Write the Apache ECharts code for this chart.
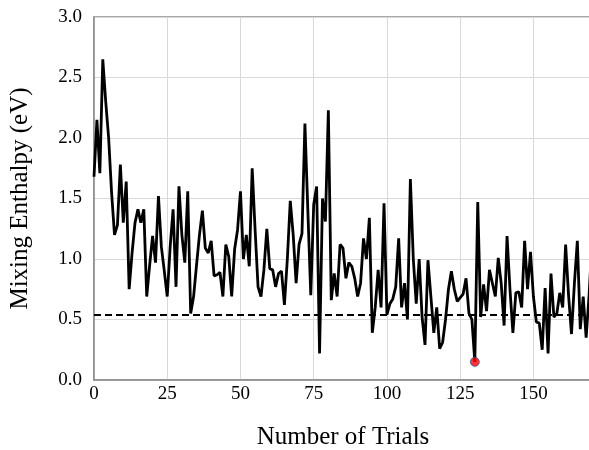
<!DOCTYPE html>
<html>
<head>
<meta charset="utf-8">
<script src="https://cdn.jsdelivr.net/npm/echarts@6/dist/echarts.min.js"></script>
<style>
  html, body { margin: 0; padding: 0; background: #fff; }
  #main { width: 589px; height: 450px; }
</style>
</head>
<body>
<div id="main"></div>
<script>
var enthalpy = [
    1.68, 2.15, 1.71, 2.65, 2.3, 2.0, 1.55, 1.2, 1.28, 1.78,
    1.30, 1.64, 0.75, 1.05, 1.30, 1.41, 1.30, 1.41, 0.69, 0.95,
    1.19, 0.97, 1.52, 1.1, 0.9, 0.69, 1.1, 1.41, 0.77, 1.60,
    1.2, 0.97, 1.56, 0.55, 0.69, 0.95, 1.2, 1.40, 1.09, 1.05,
    1.15, 0.86, 0.87, 0.89, 0.69, 1.12, 1.02, 0.69, 1.08, 1.24,
    1.56, 1.0, 1.2, 0.94, 1.75, 1.24, 0.77, 0.69, 0.91, 1.25,
    0.92, 0.91, 0.77, 0.88, 0.9, 0.62, 1.0, 1.48, 1.2, 0.80,
    1.12, 1.21, 2.12, 1.4, 0.70, 1.45, 1.6, 0.22, 1.50, 1.31,
    2.23, 0.66, 0.88, 0.69, 1.12, 1.09, 0.84, 0.97, 0.94, 0.84,
    0.69, 0.80, 1.17, 1.0, 1.34, 0.39, 0.6, 0.91, 0.6, 1.46,
    0.54, 0.63, 0.67, 0.77, 1.17, 0.6, 0.8, 0.5, 1.66, 1.0,
    0.63, 1.0, 0.52, 0.29, 0.99, 0.69, 0.39, 0.6, 0.26, 0.31,
    0.5, 0.75, 0.90, 0.75, 0.65, 0.68, 0.71, 0.84, 0.55, 0.50,
    0.15, 1.47, 0.52, 0.79, 0.57, 0.91, 0.8, 0.69, 1.01, 0.80,
    0.45, 1.19, 0.75, 0.39, 0.72, 0.73, 0.6, 1.15, 0.75, 1.06,
    0.69, 0.48, 0.47, 0.25, 0.76, 0.22, 0.88, 0.52, 0.55, 0.72,
    0.60, 1.12, 0.7, 0.38, 0.8, 1.15, 0.42, 0.69, 0.35, 0.7,
    1.15
];
var reference = 0.54;
var xTicks = [0, 25, 50, 75, 100, 125, 150];
var yTicks = [0.0, 0.5, 1.0, 1.5, 2.0, 2.5, 3.0];

var points = enthalpy.map(function (v, i) { return [i, v]; });
var best = 0;
enthalpy.forEach(function (v, i) { if (v < enthalpy[best]) best = i; });

var font = '"Liberation Serif", "Times New Roman", serif';
var myChart = echarts.init(document.getElementById('main'));

option = {
    animation: false,
    grid: {
        left: 94,
        right: -3,
        top: 17,
        bottom: 70,
        outerBoundsMode: 'none',
        containLabel: false,
        show: true,
        borderColor: '#8c8c8c',
        borderWidth: 1.5
    },
    xAxis: {
        type: 'value',
        min: 0,
        max: 170,
        interval: 25,
        name: 'Number of Trials',
        nameLocation: 'middle',
        nameGap: 45,
        nameTextStyle: { fontFamily: font, fontSize: 25, color: '#000' },
        axisLine: { show: true, lineStyle: { color: '#8c8c8c', width: 1.5 } },
        axisTick: { show: false },
        axisLabel: {
            fontFamily: font, fontSize: 19, color: '#000', margin: 5,
            showMaxLabel: false,
            formatter: function (v) { return xTicks.indexOf(v) >= 0 ? v : ''; }
        },
        splitLine: { show: true, lineStyle: { color: '#d9d9d9', width: 1 } }
    },
    yAxis: {
        type: 'value',
        min: 0,
        max: 3,
        interval: 0.5,
        name: 'Mixing Enthalpy (eV)',
        nameLocation: 'middle',
        nameGap: 61,
        nameTextStyle: { fontFamily: font, fontSize: 25, color: '#000' },
        axisLine: { show: true, lineStyle: { color: '#8c8c8c', width: 1.5 } },
        axisTick: { show: false },
        axisLabel: {
            fontFamily: font, fontSize: 19, color: '#000', margin: 12,
            formatter: function (v) { return yTicks.indexOf(v) >= 0 ? v.toFixed(1) : ''; }
        },
        splitLine: { show: true, lineStyle: { color: '#d9d9d9', width: 1 } }
    },
    series: [
        {
            type: 'line',
            data: points,
            symbol: 'none',
            lineStyle: { color: '#000', width: 2.8 },
            markLine: {
                silent: true,
                symbol: 'none',
                label: { show: false },
                lineStyle: { color: '#000', type: [7, 4], width: 2 },
                data: [{ yAxis: reference }]
            },
            z: 2
        },
        {
            type: 'scatter',
            data: [[best, enthalpy[best]]],
            symbolSize: 9,
            itemStyle: { color: '#ff0000', borderColor: '#2f5597', borderWidth: 1 },
            z: 3
        }
    ]
};

myChart.setOption(option);
</script>
</body>
</html>
